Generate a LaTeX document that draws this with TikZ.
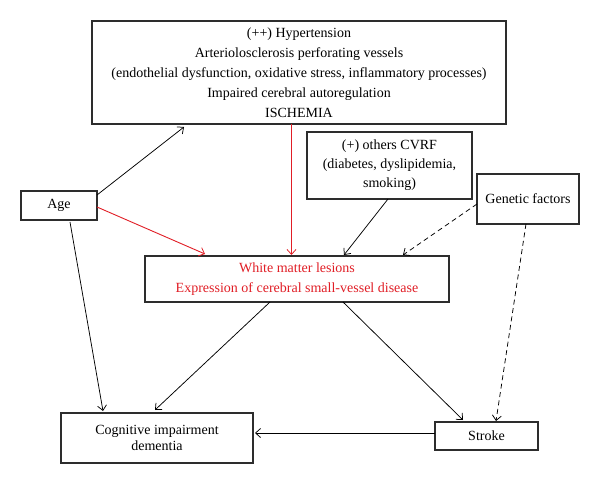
\documentclass[tikz,border=0pt]{standalone}
\usepackage{fontspec}
\setmainfont{Liberation Serif}
\usetikzlibrary{arrows.meta}
\definecolor{rd}{RGB}{225,30,38}
\definecolor{bd}{RGB}{45,45,45}
\begin{document}
\begin{tikzpicture}[x=1pt,y=-1pt,
  box/.style={draw=bd,line width=1.1pt,rectangle,inner sep=0pt,outer sep=0pt,align=center,font=\fontsize{14}{20}\selectfont},
  arr/.style={line width=0.75pt,-{Straight Barb[length=5pt,width=9pt,line width=0.75pt]}},
  redarr/.style={arr,draw=rd,line width=0.9pt},
  dsh/.style={arr,dash pattern=on 5pt off 3.5pt}]
\useasboundingbox (0,0) rectangle (600,484);
\fill[white] (0,0) rectangle (600,484);
\node[box,minimum width=414pt,minimum height=103pt] (top) at (299,72.5)
  {(++) Hypertension\\Arteriolosclerosis perforating vessels\\(endothelial dysfunction, oxidative stress, inflammatory processes)\\Impaired cerebral autoregulation\\ISCHEMIA};
\node[box,minimum width=165pt,minimum height=67pt,font=\fontsize{14}{19}\selectfont] (cvrf) at (389.5,165.5)
  {(+) others CVRF\\(diabetes, dyslipidemia,\\smoking)};
\node[box,minimum width=102pt,minimum height=50pt] (gen) at (528,199) {Genetic factors};
\node[box,minimum width=76pt,minimum height=29pt] (age) at (59,205.5) {Age};
\node[box,minimum width=304pt,minimum height=46pt,text=rd] (wml) at (297,279)
  {White matter lesions\\Expression of cerebral small-vessel disease};
\node[box,minimum width=192pt,minimum height=50pt,font=\fontsize{14}{16}\selectfont] (cog) at (157,438)
  {Cognitive impairment\\dementia};
\node[box,minimum width=103pt,minimum height=28pt] (stroke) at (486.5,436) {Stroke};
\draw[arr] ([yshift=-4pt]age.north east) -- ([xshift=-115pt,yshift=-3pt]top.south);
\draw[redarr] ([yshift=-1.5pt]age.east) -- ([xshift=60pt,yshift=2pt]wml.north west);
\draw[redarr,line width=1.3pt] ([xshift=-7.5pt]top.south) -- ([xshift=-5.5pt,yshift=1pt]wml.north);
\draw[arr] ([xshift=11pt,yshift=-2pt]age.south) -- ([xshift=42pt,yshift=2pt]cog.north west);
\draw[arr] ([xshift=-1.5pt]cvrf.south) -- ([xshift=47pt,yshift=1pt]wml.north);
\draw[dsh] ([yshift=-5pt]gen.west) -- ([xshift=106pt,yshift=1pt]wml.north);
\draw[dsh] ([xshift=-2pt]gen.south) -- ([xshift=9.5pt,yshift=1pt]stroke.north);
\draw[arr] ([xshift=-27pt]wml.south) -- ([xshift=-2pt,yshift=3pt]cog.north);
\draw[arr] ([xshift=46pt]wml.south) -- ([xshift=-23.5pt,yshift=2pt]stroke.north);
\draw[arr] ([yshift=3pt]stroke.west) -- ([xshift=2pt,yshift=5pt]cog.east);
\end{tikzpicture}
\end{document}
